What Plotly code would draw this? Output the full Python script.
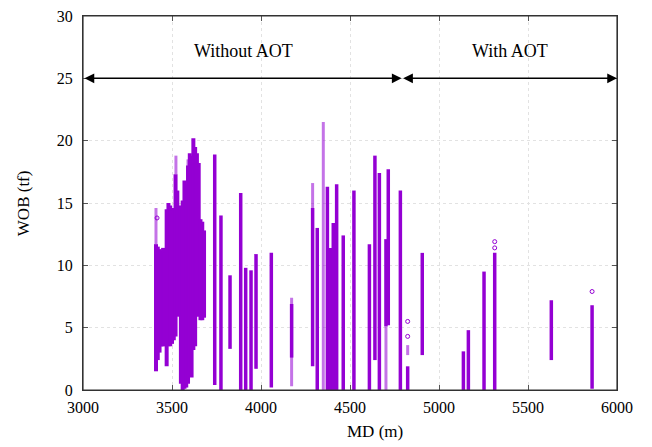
import plotly.graph_objects as go

# ---- data (MD in m, WOB in tf) ----
# dense cluster 3410-3680 m: per-depth lower / upper envelope of the points
blob_md = [3410, 3420, 3430, 3440, 3450, 3460, 3470, 3480, 3490, 3500, 3510, 3520, 3530, 3540,
           3550, 3560, 3570, 3580, 3590, 3600, 3610, 3620, 3630, 3640, 3650, 3660, 3670, 3680]
blob_lo = [1.5, 2.4, 3.0, 3.5, 3.5, 3.8, 1.9, 3.5, 3.5, 3.7, 4.0, 4.3, 5.9, 5.9,
           0.5, 0.0, 0.1, 0.2, 0.5, 1.5, 1.0, 3.2, 3.5, 5.9, 5.9, 5.6, 5.6, 5.8]
blob_hi = [11.7, 11.5, 11.3, 11.2, 11.4, 11.0, 14.5, 15.0, 14.8, 14.4, 14.6, 17.3, 16.0, 14.6,
           14.8, 15.2, 16.8, 16.5, 18.0, 19.0, 18.8, 20.2, 19.5, 19.0, 18.2, 13.7, 13.5, 12.8]

# densely sampled stripes outside the cluster
dense_md = [3740, 3775, 3826, 3886, 3914, 3944, 3972, 4058, 4172, 4290, 4316, 4373, 4390, 4406,
            4425, 4462, 4522, 4609, 4640, 4665, 4702, 4715, 4783, 4824, 4906, 5137, 5165, 5253,
            5313, 5631, 5860]
dense_lo = [0.4, 0.0, 3.3, 0.0, 0.0, 0.0, 1.7, 0.2, 2.6, 1.9, 0.0, 0.0, 0.0, 0.0,
            0.0, 0.0, 0.0, 0.0, 2.4, 0.0, 5.1, 5.2, 0.0, 0.0, 2.8, 0.0, 0.0, 0.0,
            0.0, 2.4, 0.1]
dense_hi = [18.9, 14.0, 9.2, 15.8, 9.8, 9.6, 10.9, 11.0, 6.9, 14.6, 13.0, 16.3, 11.4, 13.4,
            16.5, 12.4, 16.0, 11.7, 18.8, 17.4, 12.1, 17.7, 16.0, 1.9, 11.0, 3.1, 4.8, 9.5,
            11.0, 7.2, 6.8]

# sparsely sampled stripes
sparse_md = [3410, 3522, 3590, 4172, 4290, 4350, 4702, 4824]
sparse_lo = [11.7, 17.3, 16.8, 0.3, 14.6, 0.0, 0.0, 2.8]
sparse_hi = [14.6, 18.8, 18.5, 7.4, 16.6, 21.5, 5.1, 3.6]

# isolated points
stray_md = [4824, 4824, 5313, 5313, 5860, 3416]
stray_wob = [5.5, 4.3, 11.9, 11.4, 7.9, 13.8]

# section labels
sec_names = ["Without AOT", "With AOT"]
sec_start = [3000, 4790]
sec_end = [4790, 6000]
sec_label_md = [3900, 5400]
sec_arrow_wob = 25
sec_label_wob = 27.2

x_title = "MD (m)"
y_title = "WOB (tf)"


def segs(md, lo, hi):
    xs, ys = [], []
    for m, a, b in zip(md, lo, hi):
        xs += [m, m, None]
        ys += [a, b, None]
    return xs, ys


PURPLE = "#9400D3"
fig = go.Figure()

x, y = segs(sparse_md, sparse_lo, sparse_hi)
fig.add_trace(go.Scatter(x=x, y=y, mode="lines",
                         line=dict(color="rgba(148,0,211,0.55)", width=3), hoverinfo="skip"))
x, y = segs(blob_md, blob_lo, blob_hi)
fig.add_trace(go.Scatter(x=x, y=y, mode="lines",
                         line=dict(color=PURPLE, width=4), hoverinfo="skip"))
x, y = segs(dense_md, dense_lo, dense_hi)
fig.add_trace(go.Scatter(x=x, y=y, mode="lines",
                         line=dict(color=PURPLE, width=3.5), hoverinfo="skip"))
fig.add_trace(go.Scatter(x=stray_md, y=stray_wob, mode="markers",
                         marker=dict(symbol="circle-open", size=4, color=PURPLE, line=dict(width=1))))

FAM = "Liberation Serif"
tick_font = dict(family=FAM, size=16, color="black")
title_font = dict(family=FAM, size=17, color="black")
ann_font = dict(family=FAM, size=18, color="black")

for name, s, e, lm in zip(sec_names, sec_start, sec_end, sec_label_md):
    fig.add_annotation(x=e, y=sec_arrow_wob, ax=s, ay=sec_arrow_wob, xref="x", yref="y",
                       axref="x", ayref="y", text="", showarrow=True, arrowhead=2,
                       arrowside="end+start", arrowsize=1.3, arrowwidth=1.5, arrowcolor="black")
    fig.add_annotation(x=lm, y=sec_label_wob, xref="x", yref="y", text=name,
                       showarrow=False, font=ann_font)

# axis titles (the reference places the x title right of centre)
fig.add_annotation(x=0.547, y=-0.112, xref="paper", yref="paper", text=x_title,
                   showarrow=False, font=title_font, xanchor="center", yanchor="middle")
fig.add_annotation(x=-0.112, y=0.5, xref="paper", yref="paper", text=y_title, textangle=-90,
                   showarrow=False, font=title_font, xanchor="center", yanchor="middle")

# plot frame
fig.add_shape(type="rect", xref="paper", yref="paper", x0=0, y0=0, x1=1, y1=1,
              line=dict(color="#333", width=1.2), layer="above")

axis_common = dict(showline=True, linecolor="#333", linewidth=1, mirror="ticks",
                   ticks="inside", ticklen=5, tickcolor="#555", automargin=False,
                   ticklabeloverflow="allow",
                   showgrid=True, gridcolor="#e2e2e2", griddash="dot", gridwidth=1,
                   zeroline=False, tickfont=tick_font)

fig.update_xaxes(range=[3000, 6000], dtick=500, tick0=3000, ticklabelstandoff=3, **axis_common)
fig.update_yaxes(range=[0, 30], dtick=5, ticklabelstandoff=6, **axis_common)

fig.update_layout(width=644, height=439, showlegend=False,
                  margin=dict(l=75, r=35, t=8, b=57),
                  plot_bgcolor="white", paper_bgcolor="white", font=tick_font)

fig.write_html("out.html")
